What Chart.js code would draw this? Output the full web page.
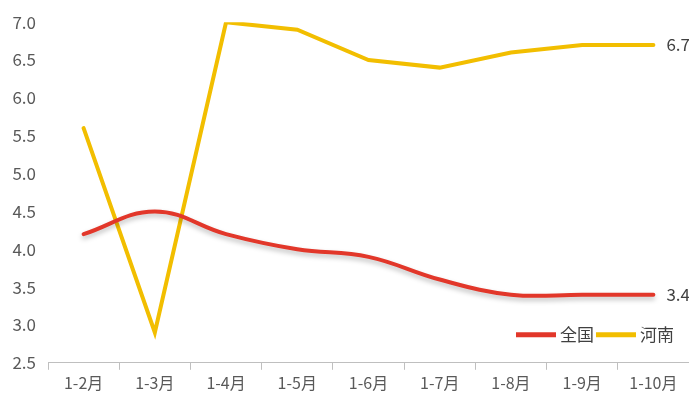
<!DOCTYPE html>
<html>
<head>
<meta charset="utf-8">
<script src="https://cdn.jsdelivr.net/npm/chart.js@4"></script>
<style>
  html, body { margin: 0; padding: 0; background: #fff; }
  #wrap { width: 689px; height: 398px; }
</style>
</head>
<body>
<div id="wrap"><canvas id="myChart"></canvas></div>
<script>
const months = ["1-2月", "1-3月", "1-4月", "1-5月", "1-6月", "1-7月", "1-8月", "1-9月", "1-10月"];
const national = [4.2, 4.5, 4.2, 4.0, 3.9, 3.6, 3.4, 3.4, 3.4];
const henan = [5.6, 2.9, 7.0, 6.9, 6.5, 6.4, 6.6, 6.7, 6.7];

const RED = '#e2372a';
const YELLOW = '#f2be00';
const FONT = '"Noto Sans CJK SC", "Noto Sans", sans-serif';

// value of the last point, written to the right of it
const endLabels = {
  id: 'endLabels',
  afterDatasetsDraw(chart) {
    const ctx = chart.ctx;
    ctx.save();
    ctx.font = '17px ' + FONT;
    ctx.fillStyle = '#404040';
    ctx.textBaseline = 'middle';
    chart.data.datasets.forEach((ds, i) => {
      const pts = chart.getDatasetMeta(i).data;
      const p = pts[pts.length - 1];
      ctx.fillText(ds.data[ds.data.length - 1].toFixed(1), p.x + 13, p.y);
    });
    ctx.restore();
  }
};

// legend drawn inside the plot, bottom right
const innerLegend = {
  id: 'innerLegend',
  afterDraw(chart) {
    const ctx = chart.ctx;
    const area = chart.chartArea;
    ctx.save();
    ctx.font = '17px ' + FONT;
    ctx.textBaseline = 'middle';
    let x = 516;
    const y = area.bottom - 28;
    chart.data.datasets.forEach(ds => {
      ctx.strokeStyle = ds.borderColor;
      ctx.lineWidth = 5;
      ctx.beginPath();
      ctx.moveTo(x, y);
      ctx.lineTo(x + 40, y);
      ctx.stroke();
      ctx.fillStyle = '#404040';
      ctx.fillText(ds.label, x + 44, y);
      x += 44 + ctx.measureText(ds.label).width + 2;
    });
    ctx.restore();
  }
};

// soft shadow under the national line
const lineShadow = {
  id: 'lineShadow',
  beforeDatasetDraw(chart, args) {
    if (args.index !== 0) return;
    chart.ctx.save();
    chart.ctx.shadowColor = 'rgba(0,0,0,0.25)';
    chart.ctx.shadowBlur = 5;
    chart.ctx.shadowOffsetY = 3;
  },
  afterDatasetDraw(chart, args) {
    if (args.index !== 0) return;
    chart.ctx.restore();
  }
};

const data = {
  labels: months,
  datasets: [
    {
      label: '全国',
      data: national,
      borderColor: RED,
      backgroundColor: RED,
      borderWidth: 4,
      tension: 0.4,
      pointRadius: 0,
      borderCapStyle: 'round'
    },
    {
      label: '河南',
      data: henan,
      borderColor: YELLOW,
      backgroundColor: YELLOW,
      borderWidth: 4,
      tension: 0,
      pointRadius: 0,
      borderCapStyle: 'round'
    }
  ]
};

const config = {
  type: 'line',
  data: data,
  plugins: [lineShadow, endLabels, innerLegend],
  options: {
    responsive: true,
    maintainAspectRatio: false,
    animation: false,
    layout: { padding: { top: 14, right: 0, bottom: 1, left: 0 } },
    plugins: {
      legend: { display: false },
      tooltip: { enabled: false }
    },
    scales: {
      x: {
        offset: true,
        grid: {
          offset: true,
          drawOnChartArea: false,
          drawTicks: true,
          tickLength: 7,
          color: '#bfbfbf'
        },
        border: { color: '#bfbfbf' },
        ticks: {
          color: '#595959',
          font: { family: FONT, size: 16 },
          padding: 4,
          maxRotation: 0
        }
      },
      y: {
        min: 2.5,
        max: 7.0,
        grid: { display: false, drawTicks: false },
        border: { display: false },
        afterFit(scale) { scale.width = 48; },
        ticks: {
          stepSize: 0.5,
          color: '#595959',
          padding: 12,
          font: { family: FONT, size: 17 },
          callback: v => v.toFixed(1)
        }
      }
    }
  }
};

const myChart = new Chart(document.getElementById('myChart'), config);
</script>
</body>
</html>
